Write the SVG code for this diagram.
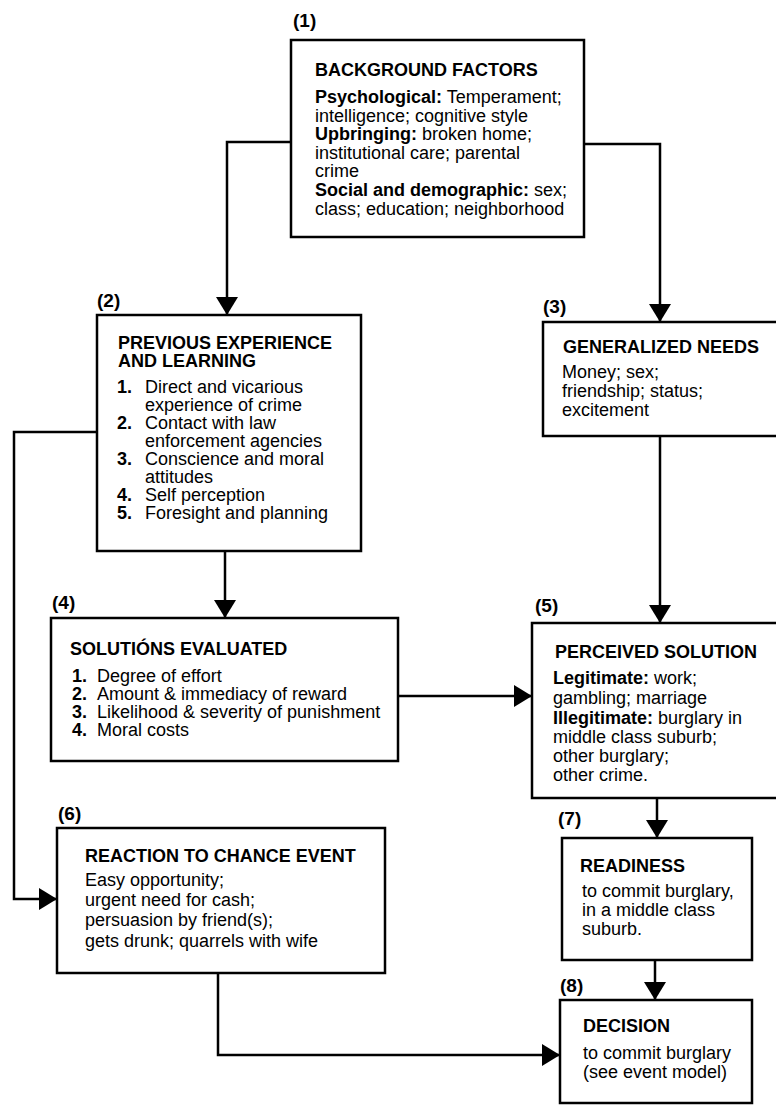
<svg xmlns="http://www.w3.org/2000/svg" width="776" height="1105" viewBox="0 0 776 1105">
<defs>
<marker id="ah" viewBox="0 0 10 10" refX="10" refY="5" markerWidth="18" markerHeight="22" markerUnits="userSpaceOnUse" orient="auto" preserveAspectRatio="none"><path d="M0,0 L10,5 L0,10 z" fill="#000"/></marker>
</defs>
<style>
.box{fill:#fff;stroke:#000;stroke-width:2.5}
.conn{fill:none;stroke:#000;stroke-width:2.5;marker-end:url(#ah)}
text{font-family:"Liberation Sans",Arial,sans-serif;font-size:18px;fill:#000}
.t{font-weight:bold}
.b{font-weight:bold}
.lbl{font-weight:bold;font-size:19px}
</style>
<rect width="776" height="1105" fill="#fff"/>

<g id="connectors">
<path class="conn" d="M291,142 H227 V315"/>
<path class="conn" d="M584,144 H660 V322"/>
<path class="conn" d="M225,551 V618"/>
<path class="conn" d="M660,436 V623"/>
<path class="conn" d="M398,696 H532"/>
<path class="conn" d="M657,798 V838"/>
<path class="conn" d="M655,960 V1000"/>
<path class="conn" d="M97,432 H14 V899 H57"/>
<path class="conn" d="M218,973 V1055 H560"/>
</g>

<g id="n1">
<text class="lbl" x="293" y="27">(1)</text>
<rect class="box" x="291" y="40" width="293" height="197"/>
<text class="t" x="315" y="76">BACKGROUND FACTORS</text>
<text x="315" y="103"><tspan class="b">Psychological:</tspan> Temperament;</text>
<text x="315" y="122">intelligence; cognitive style</text>
<text x="315" y="140"><tspan class="b">Upbringing:</tspan> broken home;</text>
<text x="315" y="159">institutional care; parental</text>
<text x="315" y="177">crime</text>
<text x="315" y="196"><tspan class="b">Social and demographic:</tspan> sex;</text>
<text x="315" y="215">class; education; neighborhood</text>
</g>

<g id="n2">
<text class="lbl" x="97" y="307">(2)</text>
<rect class="box" x="97" y="315" width="264" height="236"/>
<text class="t" x="118" y="349">PREVIOUS EXPERIENCE</text>
<text class="t" x="118" y="367">AND LEARNING</text>
<text class="b" x="117" y="393">1.</text><text x="145" y="393">Direct and vicarious</text>
<text x="145" y="411">experience of crime</text>
<text class="b" x="117" y="429">2.</text><text x="145" y="429">Contact with law</text>
<text x="145" y="447">enforcement agencies</text>
<text class="b" x="117" y="465">3.</text><text x="145" y="465">Conscience and moral</text>
<text x="145" y="483">attitudes</text>
<text class="b" x="117" y="501">4.</text><text x="145" y="501">Self perception</text>
<text class="b" x="117" y="519">5.</text><text x="145" y="519">Foresight and planning</text>
</g>

<g id="n3">
<text class="lbl" x="543" y="313">(3)</text>
<rect class="box" x="543" y="322" width="240" height="114"/>
<text class="t" x="563" y="353">GENERALIZED NEEDS</text>
<text x="562" y="378">Money; sex;</text>
<text x="562" y="397">friendship; status;</text>
<text x="562" y="416">excitement</text>
</g>

<g id="n4">
<text class="lbl" x="52" y="609">(4)</text>
<rect class="box" x="51" y="618" width="347" height="143"/>
<text class="t" x="70" y="655">SOLUTIÓNS EVALUATED</text>
<text class="b" x="72" y="682">1.</text><text x="97" y="682">Degree of effort</text>
<text class="b" x="72" y="700">2.</text><text x="97" y="700">Amount &amp; immediacy of reward</text>
<text class="b" x="72" y="718">3.</text><text x="97" y="718">Likelihood &amp; severity of punishment</text>
<text class="b" x="72" y="736">4.</text><text x="97" y="736">Moral costs</text>
</g>

<g id="n5">
<text class="lbl" x="535" y="612">(5)</text>
<rect class="box" x="532" y="623" width="250" height="175"/>
<text class="t" x="555" y="658">PERCEIVED SOLUTION</text>
<text x="553" y="684"><tspan class="b">Legitimate:</tspan> work;</text>
<text x="553" y="704">gambling; marriage</text>
<text x="553" y="724"><tspan class="b">Illegitimate:</tspan> burglary in</text>
<text x="553" y="743">middle class  suburb;</text>
<text x="553" y="762">other burglary;</text>
<text x="553" y="781">other crime.</text>
</g>

<g id="n6">
<text class="lbl" x="58" y="820">(6)</text>
<rect class="box" x="57" y="828" width="328" height="145"/>
<text class="t" x="85" y="862">REACTION TO CHANCE EVENT</text>
<text x="85" y="886">Easy opportunity;</text>
<text x="85" y="906">urgent need for cash;</text>
<text x="85" y="926">persuasion by friend(s);</text>
<text x="85" y="947">gets drunk; quarrels with wife</text>
</g>

<g id="n7">
<text class="lbl" x="558" y="825">(7)</text>
<rect class="box" x="562" y="838" width="190" height="122"/>
<text class="t" x="580" y="872">READINESS</text>
<text x="582" y="897">to commit burglary,</text>
<text x="582" y="916">in a middle class</text>
<text x="582" y="935">suburb.</text>
</g>

<g id="n8">
<text class="lbl" x="560" y="992">(8)</text>
<rect class="box" x="560" y="1000" width="192" height="103"/>
<text class="t" x="583" y="1032">DECISION</text>
<text x="583" y="1059">to commit burglary</text>
<text x="583" y="1078">(see event model)</text>
</g>
</svg>
